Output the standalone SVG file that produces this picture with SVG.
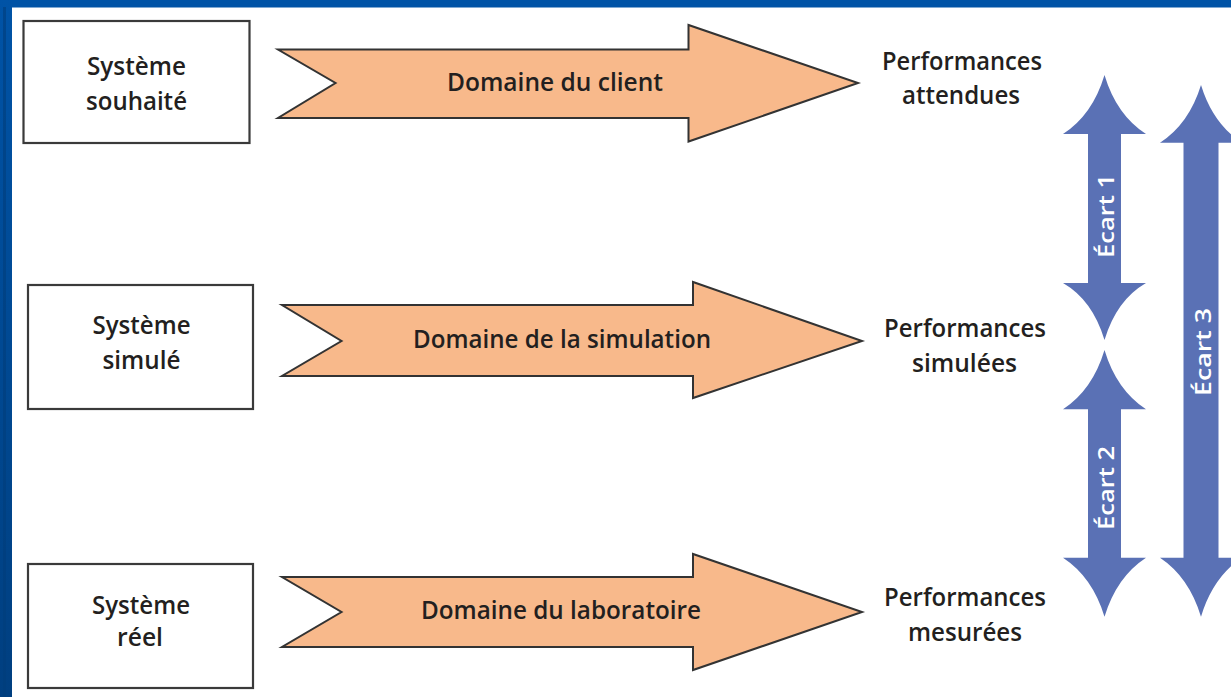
<svg xmlns="http://www.w3.org/2000/svg" width="1231" height="697" viewBox="0 0 1231 697">
<defs>
<linearGradient id="lb" x1="0" y1="0" x2="0" y2="1">
<stop offset="0" stop-color="#0053a6"/>
<stop offset="1" stop-color="#003f80"/>
</linearGradient>
<style>
.box{fill:#fff;stroke:#3a3a3a;stroke-width:2.2}
.dom{fill:#f8b98b;stroke:#333;stroke-width:2;stroke-linejoin:miter}
.gap{fill:#5a71b5}
.t{font-family:"Open Sans","Liberation Sans",Arial,sans-serif;font-weight:600;font-size:25px;fill:#231f20;text-anchor:middle}
.w{font-family:"Open Sans","Liberation Sans",Arial,sans-serif;font-weight:600;font-size:22px;fill:#fff;text-anchor:middle}
</style>
</defs>
<rect x="0" y="0" width="1231" height="697" fill="#fff"/>
<g id="frame">
<rect x="0" y="0" width="1231" height="7.5" fill="#0053a6"/>
<rect x="0" y="0" width="12" height="697" fill="url(#lb)"/>
<rect x="3" y="7" width="3" height="690" fill="#003d7c" opacity="0.6"/>
</g>

<g id="connectors">
<g id="dom-client">
<polygon class="dom" points="278,49.5 688.5,49.5 688.5,25 858,83 688.5,141.5 688.5,118 278,118 335.5,83"/>
<text class="t" x="555" y="91" textLength="216" lengthAdjust="spacingAndGlyphs">Domaine du client</text>
</g>
<g id="dom-simulation">
<polygon class="dom" points="282,305 693,305 693,282 862,341 693,398 693,376 282,376 341.5,341"/>
<text class="t" x="562" y="348" textLength="298" lengthAdjust="spacingAndGlyphs">Domaine de la simulation</text>
</g>
<g id="dom-laboratoire">
<polygon class="dom" points="282,577 693,577 693,554 862,612 693,670 693,647 282,647 341.5,612"/>
<text class="t" x="561" y="619" textLength="280" lengthAdjust="spacingAndGlyphs">Domaine du laboratoire</text>
</g>
<g id="ecart1">
<path class="gap" d="M1104.5 75 Q1092.5 115 1063 134 L1088 134 L1088 283 L1063 283 Q1092.5 300 1104.5 340 Q1116.5 300 1146 283 L1121 283 L1121 134 L1146 134 Q1116.5 115 1104.5 75 Z"/>
<text class="w" transform="translate(1114 216) rotate(-90)" textLength="84" lengthAdjust="spacingAndGlyphs">Écart 1</text>
</g>
<g id="ecart2">
<path class="gap" d="M1104.5 350 Q1092.5 390 1063 409.3 L1088 409.3 L1088 557.7 L1063 557.7 Q1092.5 577 1104.5 616.7 Q1116.5 577 1146 557.7 L1121 557.7 L1121 409.3 L1146 409.3 Q1116.5 390 1104.5 350 Z"/>
<text class="w" transform="translate(1114 488) rotate(-90)" textLength="84" lengthAdjust="spacingAndGlyphs">Écart 2</text>
</g>
<g id="ecart3">
<path class="gap" d="M1201 85 Q1189 124 1160 142.7 L1183.5 142.7 L1183.5 557.7 L1160 557.7 Q1189 577 1201 616.7 Q1213 577 1242 557.7 L1218.5 557.7 L1218.5 142.7 L1242 142.7 Q1213 124 1201 85 Z"/>
<text class="w" transform="translate(1211 352) rotate(-90)" textLength="88" lengthAdjust="spacingAndGlyphs">Écart 3</text>
</g>
</g>

<g id="sys-souhaite">
<rect class="box" x="23.5" y="21" width="226" height="122"/>
<text class="t" x="136.5" y="75" textLength="99" lengthAdjust="spacingAndGlyphs">Système</text>
<text class="t" x="136.5" y="110" textLength="101" lengthAdjust="spacingAndGlyphs">souhaité</text>
</g>
<g id="sys-simule">
<rect class="box" x="28" y="285" width="225" height="124"/>
<text class="t" x="141.5" y="334" textLength="98" lengthAdjust="spacingAndGlyphs">Système</text>
<text class="t" x="141.5" y="369" textLength="78" lengthAdjust="spacingAndGlyphs">simulé</text>
</g>
<g id="sys-reel">
<rect class="box" x="28" y="564" width="225" height="124"/>
<text class="t" x="141" y="614" textLength="98" lengthAdjust="spacingAndGlyphs">Système</text>
<text class="t" x="140" y="646" textLength="46" lengthAdjust="spacingAndGlyphs">réel</text>
</g>

<g id="perf-attendues">
<text class="t" x="962" y="70" textLength="160" lengthAdjust="spacingAndGlyphs">Performances</text>
<text class="t" x="961" y="104" textLength="118" lengthAdjust="spacingAndGlyphs">attendues</text>
</g>
<g id="perf-simulees">
<text class="t" x="965" y="337" textLength="162" lengthAdjust="spacingAndGlyphs">Performances</text>
<text class="t" x="964.5" y="372" textLength="105" lengthAdjust="spacingAndGlyphs">simulées</text>
</g>
<g id="perf-mesurees">
<text class="t" x="965" y="606" textLength="162" lengthAdjust="spacingAndGlyphs">Performances</text>
<text class="t" x="965" y="641" textLength="114" lengthAdjust="spacingAndGlyphs">mesurées</text>
</g>
</svg>
